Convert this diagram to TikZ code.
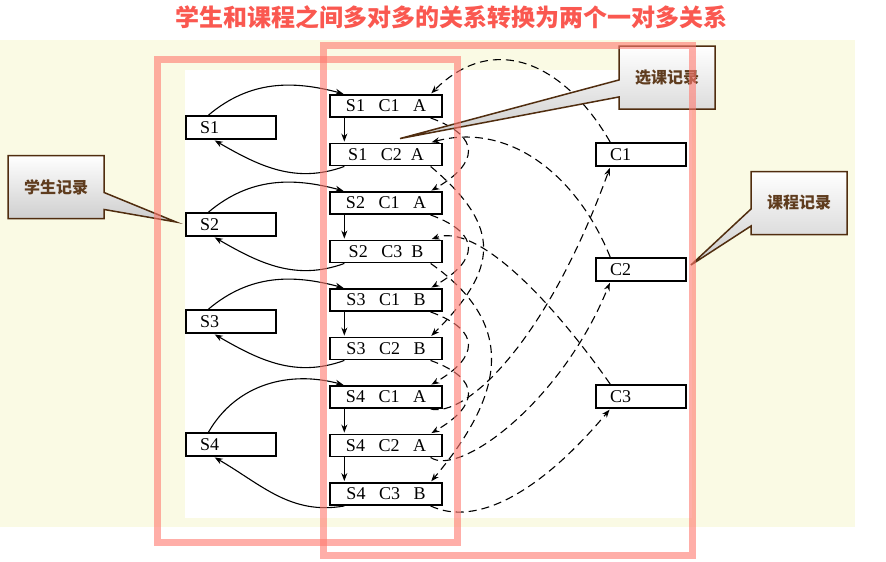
\documentclass[tikz,border=0pt]{standalone}
\usepackage{fontspec}
\setmainfont{Liberation Serif}
\newfontfamily\cjk{Noto Sans CJK SC}
\usetikzlibrary{positioning,arrows.meta,shapes.callouts,calc}

\definecolor{cream}{RGB}{250,250,228}
\definecolor{titlered}{RGB}{250,88,80}
\definecolor{pinkline}{RGB}{255,120,110}
\definecolor{brownline}{RGB}{80,45,15}
\definecolor{browntext}{RGB}{95,60,30}

\tikzset{
  rec/.style={draw, line width=1.9pt, minimum height=22pt, inner sep=0pt, font=\fontsize{18}{18}\selectfont},
  enrol/.style={rec, minimum width=112pt},
  side/.style={rec, minimum height=23pt, text width=62pt, align=left, inner xsep=14pt},
  note/.style={rectangle callout, draw=brownline, line width=1.5pt, top color=white, bottom color=gray!40,
    text=browntext, font=\cjk\bfseries\fontsize{16}{16}\selectfont, minimum width=96pt, minimum height=63pt,
    callout pointer width=17pt},
  slink/.style={line width=1.1pt},
  clink/.style={line width=1.1pt, dash pattern=on 8pt off 5pt},
  bulge/.style={out=-20, in=30, out distance=55pt, in distance=55pt},
  pinkbox/.style={draw=pinkline, line width=7pt, draw opacity=0.6}
}

\begin{document}
\begin{tikzpicture}[x=1pt, y=1pt, >={Stealth[length=8pt,width=6pt]}, shorten >=1pt, node distance=48.5pt, on grid]
   \useasboundingbox (0,0) rectangle (886,-562);
   \fill[cream] (0,-40) rectangle (855,-527);
   \fill[white] (185,-70) rectangle (692,-518);

   \node[text=titlered, font=\cjk\bfseries\fontsize{24}{24}\selectfont] (head) at (451,-17)
      {学生和课程之间多对多的关系转换为两个一对多关系};

   % students
   \node[side] (s1) at (231,-127.5) {S1};
   \node[side] (s2) at (231,-224.5) {S2};
   \node[side] (s3) at (231,-321.5) {S3};
   \node[side] (s4) at (231,-444.5) {S4};

   % courses
   \node[side] (c1) at (641,-154.5) {C1};
   \node[side] (c2) at (641,-269.5) {C2};
   \node[side] (c3) at (641,-396.5) {C3};

   % enrolments
   \node[enrol] (s1c1) at (386,-106) {S1\enspace\ C1\enspace\ A};
   \node[enrol, below=of s1c1] (s1c2) {S1\enspace\ C2\ \ A};
   \node[enrol, below=of s1c2] (s2c1) {S2\enspace\ C1\enspace\ A};
   \node[enrol, below=of s2c1] (s2c3) {S2\enspace\ C3\ \ B};
   \node[enrol, below=of s2c3] (s3c1) {S3\enspace\ C1\enspace\ B};
   \node[enrol, below=of s3c1] (s3c2) {S3\enspace\ C2\enspace\ B};
   \node[enrol, below=of s3c2] (s4c1) {S4\enspace\ C1\enspace\ A};
   \node[enrol, below=of s4c1] (s4c2) {S4\enspace\ C2\enspace\ A};
   \node[enrol, below=of s4c2] (s4c3) {S4\enspace\ C3\enspace\ B};

   \path[->, slink]
      (s1.151) edge[out=40, in=165] (s1c1.164)
      (s1c2.196) edge[out=200, in=-30] (s1.216)
      (s2.151) edge[out=40, in=165] (s2c1.164)
      (s2c3.196) edge[out=200, in=-30] (s2.216)
      (s3.151) edge[out=40, in=165] (s3c1.164)
      (s3c2.196) edge[out=200, in=-30] (s3.216)
      (s4.151) edge[out=60, in=165] (s4c1.164)
      (s4c3.196) edge[out=190, in=-30] (s4.216)
      (s1c1.196) edge (s1c2.164)
      (s2c1.196) edge (s2c3.164)
      (s3c1.196) edge (s3c2.164)
      (s4c1.196) edge (s4c2.164)
      (s4c2.196) edge (s4c3.164);

   \path[->, clink]
      (c1.158) edge[out=120, in=45, out distance=90pt, in distance=90pt] (s1c1.15)
      (s1c1.-15) edge[bulge] (s2c1.15)
      (s2c1.-15) edge[bulge] (s3c1.15)
      (s3c1.-15) edge[bulge] (s4c1.15)
      (s4c1.-15) edge[out=-15, in=250, out distance=35pt, in distance=190pt] (c1.202)
      (c2.158) edge[out=112, in=15, out distance=90pt, in distance=80pt] (s1c2.15)
      (s1c2.-15) edge[out=-40, in=45, out distance=95pt, in distance=95pt] (s3c2.15)
      (s3c2.-15) edge[bulge] (s4c2.15)
      (s4c2.-15) edge[out=-35, in=248, out distance=35pt, in distance=130pt] (c2.202)
      (c3.158) edge[out=125, in=20, out distance=100pt, in distance=50pt] (s2c3.15)
      (s2c3.-15) edge[out=-35, in=50, out distance=110pt, in distance=110pt] (s4c3.15)
      (s4c3.-15) edge[out=-25, in=230, out distance=50pt, in distance=110pt] (c3.202);

   % callouts
   \node[note, callout absolute pointer={($(s2.west)+(-9,2.5)$)}] (n1) at (56,-187) {学生记录};
   \node[note, callout absolute pointer={($(s1c2.north)+(14,4)$)}] (n2) at (667,-77.5) {选课记录};
   \node[note, callout absolute pointer={($(c2.east)+(4,4.5)$)}] (n3) at (799,-203) {课程记录};

   \draw[pinkbox] (157,-59.5) rectangle (457,-542);
   \draw[pinkbox] (323,-45) rectangle (692,-555);
\end{tikzpicture}
\end{document}
